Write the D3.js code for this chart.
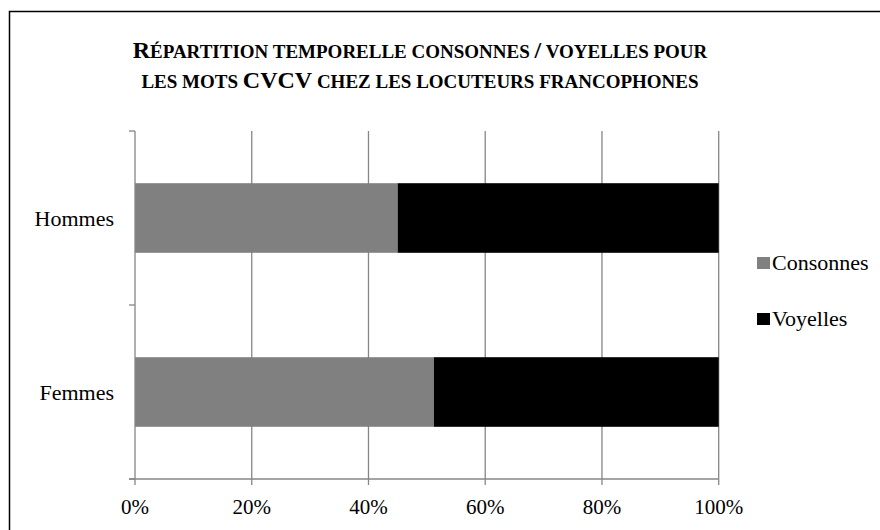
<!DOCTYPE html>
<html>
<head>
<meta charset="utf-8">
<script src="https://cdn.jsdelivr.net/npm/d3@7"></script>
</head>
<body style="margin:0; background:#fff">
<script>
// data
const categories = ['Hommes', 'Femmes'];
const series = ['Consonnes', 'Voyelles'];
const consonnes = [45.0, 51.2];
const voyelles = [55.0, 48.8];
const xTicks = [0, 20, 40, 60, 80, 100];
const titleLines = ['Répartition temporelle consonnes / voyelles pour',
                    'les mots CVCV chez les locuteurs francophones'];
const colors = ['#808080', '#000000'];

const width = 880;
const height = 530;
const serif = '"Liberation Serif"';

const svg = d3.select('body')
  .append('svg')
  .attr('width', width)
  .attr('height', height)
  .style('display', 'block');

// outer frame (right/bottom edges fall outside the picture)
svg.append('rect')
  .attr('x', 9.5).attr('y', 11.5)
  .attr('width', 900).attr('height', 600)
  .attr('fill', 'none')
  .attr('stroke', '#000')
  .attr('stroke-width', 1.5);

const x = d3.scaleLinear().domain([0, 100]).range([135, 718.7]);
const y = d3.scaleBand().domain(categories).range([131, 479])
  .paddingInner(0.6).paddingOuter(0.3);

const rows = categories.map((c, i) => ({ cat: c, Consonnes: consonnes[i], Voyelles: voyelles[i] }));
const stacked = d3.stack().keys(series)(rows);

// gridlines
svg.append('g')
  .selectAll('line')
  .data(xTicks.slice(1))
  .enter()
  .append('line')
  .attr('x1', d => x(d)).attr('x2', d => x(d))
  .attr('y1', 131).attr('y2', 479)
  .attr('stroke', '#868686')
  .attr('stroke-width', 1.3);

// bars
svg.append('g')
  .selectAll('g')
  .data(stacked)
  .enter()
  .append('g')
  .attr('fill', (d, i) => colors[i])
  .selectAll('rect')
  .data(d => d)
  .enter()
  .append('rect')
  .attr('x', d => x(d[0]))
  .attr('width', d => x(d[1]) - x(d[0]))
  .attr('y', d => y(d.data.cat))
  .attr('height', y.bandwidth());

// y axis (category boundaries as ticks)
const yBounds = [131, 131 + y.step(), 479];
const yAxis = svg.append('g').attr('stroke', '#868686').attr('stroke-width', 1.3);
yAxis.append('line').attr('x1', x(0)).attr('x2', x(0)).attr('y1', 131).attr('y2', 479);
yAxis.selectAll('.tk')
  .data(yBounds)
  .enter()
  .append('line')
  .attr('x1', x(0) - 6).attr('x2', x(0))
  .attr('y1', d => d).attr('y2', d => d);

svg.append('g')
  .selectAll('text')
  .data(categories)
  .enter()
  .append('text')
  .attr('x', x(0) - 21)
  .attr('y', d => y(d) + y.bandwidth() / 2)
  .attr('dy', '0.35em')
  .attr('text-anchor', 'end')
  .style('font-family', serif)
  .style('font-size', '22px')
  .text(d => d);

// x axis
const xAxis = svg.append('g').attr('stroke', '#868686').attr('stroke-width', 1.3);
xAxis.append('line').attr('x1', x(0) - 6).attr('x2', x(100)).attr('y1', 479).attr('y2', 479);
xAxis.selectAll('.tk')
  .data(xTicks)
  .enter()
  .append('line')
  .attr('x1', d => x(d)).attr('x2', d => x(d))
  .attr('y1', 479).attr('y2', 485);

svg.append('g')
  .selectAll('text')
  .data(xTicks)
  .enter()
  .append('text')
  .attr('x', d => x(d))
  .attr('y', 514)
  .attr('text-anchor', 'middle')
  .style('font-family', serif)
  .style('font-size', '21px')
  .text(d => d + '%');

// legend
const legend = svg.append('g')
  .selectAll('g')
  .data(series)
  .enter()
  .append('g')
  .attr('transform', (d, i) => `translate(757, ${257 + i * 56})`);
legend.append('rect')
  .attr('width', 13).attr('height', 12)
  .attr('fill', (d, i) => colors[i]);
legend.append('text')
  .attr('x', 15).attr('y', 13)
  .style('font-family', serif)
  .style('font-size', '22px')
  .text(d => d);

// title, hand-made small caps
const title = svg.append('text')
  .attr('text-anchor', 'middle')
  .style('font-family', serif)
  .style('font-weight', 'bold');
titleLines.forEach((line, li) => {
  const parts = [];
  for (const ch of line) {
    const big = ch !== ch.toLowerCase() || ch === '/';
    const last = parts[parts.length - 1];
    if (last && last.big === big) last.s += ch;
    else parts.push({ big, s: ch });
  }
  parts.forEach((p, pi) => {
    const t = title.append('tspan')
      .style('font-family', serif)
      .style('font-size', p.big ? '24px' : '19px')
      .text(p.s.toUpperCase());
    if (pi === 0) t.attr('x', 420).attr('y', 58 + li * 30);
  });
});
</script>
</body>
</html>
